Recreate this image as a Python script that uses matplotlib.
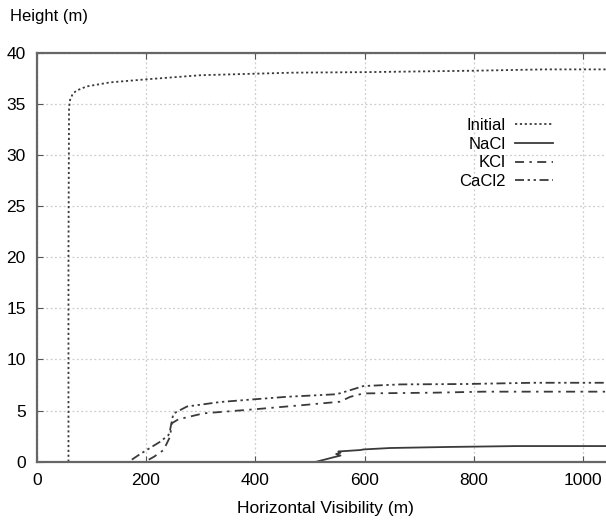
import matplotlib
matplotlib.use('Agg')
import matplotlib.pyplot as plt

plt.rcParams['font.family'] = ['Liberation Sans', 'DejaVu Sans']

# curves: (horizontal visibility m, height m)
init_x = [58, 58, 59, 61, 66, 73, 91, 134, 201, 300, 400, 470, 600, 800, 930, 1042]
init_y = [0, 20, 34.6, 35.4, 36.0, 36.3, 36.7, 37.1, 37.4, 37.8, 37.95, 38.05, 38.1, 38.24, 38.37, 38.37]

nacl_x = [512, 543, 556, 548, 556, 552, 592, 598, 647, 751, 879, 1042]
nacl_y = [0, 0.43, 0.6, 0.75, 0.88, 1.0, 1.14, 1.2, 1.34, 1.44, 1.53, 1.53]

kcl_x = [205, 215, 232, 244, 247, 259, 305, 397, 488, 555, 574, 598, 726, 818, 1042]
kcl_y = [0.2, 0.5, 1.14, 2.44, 3.75, 4.14, 4.73, 5.12, 5.54, 5.87, 6.35, 6.68, 6.75, 6.85, 6.85]

cacl2_x = [174, 185, 201, 226, 241, 244, 250, 275, 336, 397, 458, 549, 574, 598, 665, 787, 909, 1042]
cacl2_y = [0.2, 0.6, 1.14, 1.96, 2.6, 3.1, 4.7, 5.4, 5.84, 6.1, 6.35, 6.6, 7.0, 7.4, 7.56, 7.6, 7.72, 7.72]

xticks = [0, 200, 400, 600, 800, 1000]
yticks = [0, 5, 10, 15, 20, 25, 30, 35, 40]

lc = '#3a3a3a'
fig = plt.figure(figsize=(6.06, 5.22), dpi=100)
ax = fig.add_axes([0.0607, 0.1155, 0.9393, 0.7835])

ax.plot(init_x, init_y, color=lc, lw=1.3, ls=(0, (1.2, 1.5)), label='Initial')
ax.plot(nacl_x, nacl_y, color=lc, lw=1.3, ls='-', label='NaCl')
ax.plot(kcl_x, kcl_y, color=lc, lw=1.3, ls=(0, (5, 3, 1.3, 3)), label='KCl')
ax.plot(cacl2_x, cacl2_y, color=lc, lw=1.3, ls=(0, (5, 2, 1.3, 2, 1.3, 2)), label='CaCl2')

ax.set_xlim(0, 1042)
ax.set_ylim(0, 40)
ax.set_xticks(xticks)
ax.set_yticks(yticks)
ax.grid(True, color='#cccccc', ls=(0, (1.5, 2)), lw=0.9)
ax.set_axisbelow(True)
ax.tick_params(direction='in', top=True, length=4, color='#555555',
               labelsize=12.5, pad=8)
for s in ['left', 'bottom', 'top']:
    ax.spines[s].set_color('#666666')
    ax.spines[s].set_linewidth(1.6)
ax.spines['right'].set_visible(False)

leg = ax.legend(loc='upper right', bbox_to_anchor=(0.907, 0.84), frameon=False,
                markerfirst=False, fontsize=12, handlelength=2.3,
                handletextpad=0.55, labelspacing=0.22, borderpad=0, borderaxespad=0)

fig.text(10 / 606, 1 - 17 / 522, 'Height (m)', fontsize=12, ha='left', va='center')
fig.text(325 / 606, 1 - 508 / 522, 'Horizontal Visibility (m)', fontsize=12.5,
         ha='center', va='center')

fig.savefig('out.png', dpi=100)
